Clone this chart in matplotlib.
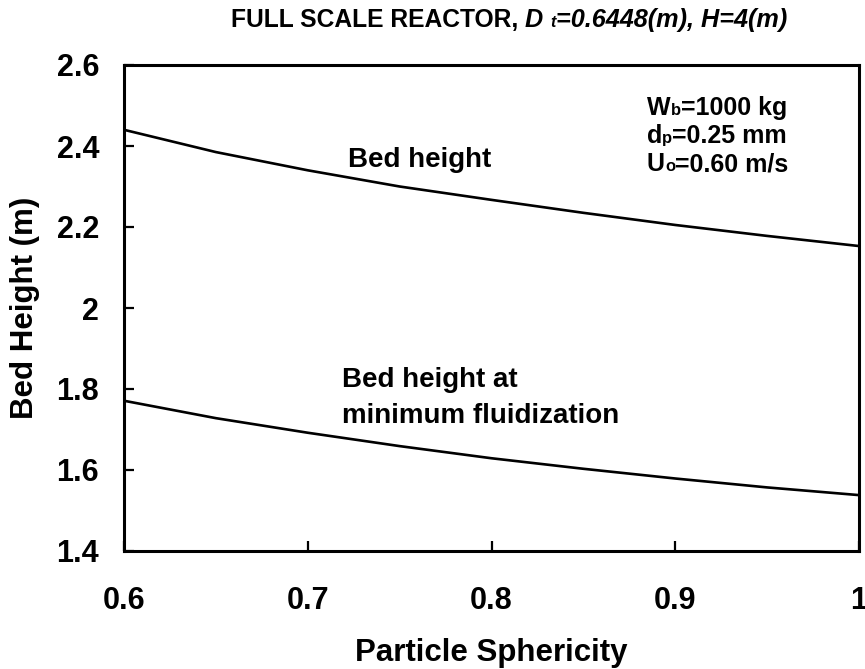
import numpy as np
import matplotlib
matplotlib.use("Agg")
import matplotlib.pyplot as plt

# fonts: bold Arial-like everywhere
plt.rcParams["font.family"] = ["Liberation Sans", "DejaVu Sans"]
plt.rcParams["font.weight"] = "bold"

# data
sphericity = [0.60, 0.65, 0.70, 0.75, 0.80, 0.85, 0.90, 0.95, 1.00]
bed_height = [2.440, 2.385, 2.340, 2.300, 2.267, 2.235, 2.205, 2.178, 2.153]
bed_height_mf = [1.771, 1.728, 1.692, 1.659, 1.629, 1.603, 1.579, 1.557, 1.538]

x_ticks = [0.6, 0.7, 0.8, 0.9, 1.0]
x_tick_labels = ["0.6", "0.7", "0.8", "0.9", "1"]
y_ticks = [1.4, 1.6, 1.8, 2.0, 2.2, 2.4, 2.6]
y_tick_labels = ["1.4", "1.6", "1.8", "2", "2.2", "2.4", "2.6"]

W, H = 865, 669
fig = plt.figure(figsize=(W / 100, H / 100), dpi=100)
ax = fig.add_axes([124 / W, 1 - 551 / H, (859 - 124) / W, (551 - 65) / H])
renderer = fig.canvas.get_renderer()


def text_runs(x_px, y_px, pieces):
    """draw text pieces one after another on a common baseline (pixel coords from top-left)"""
    x = x_px
    for txt, size, style in pieces:
        t = fig.text(x / W, 1 - y_px / H, txt, fontsize=size, fontstyle=style,
                     fontweight="bold", ha="left", va="baseline")
        x += t.get_window_extent(renderer).width


ax.plot(sphericity, bed_height, color="black", lw=1.9)
ax.plot(sphericity, bed_height_mf, color="black", lw=1.9)

ax.set_xlim(0.6, 1.0)
ax.set_ylim(1.4, 2.6)
ax.set_xticks(x_ticks)
ax.set_xticklabels(x_tick_labels)
ax.set_yticks(y_ticks)
ax.set_yticklabels(y_tick_labels)
ax.tick_params(direction="in", length=7, width=1.6, labelsize=22)
ax.tick_params(axis="y", pad=18)
ax.tick_params(axis="x", pad=25)
for s in ax.spines.values():
    s.set_linewidth(2.2)

ax.set_xlabel("Particle Sphericity", fontsize=22.5, fontweight="bold", labelpad=16)
ax.set_ylabel("Bed Height (m)", fontsize=22.5, fontweight="bold", labelpad=12)

# curve labels
text_runs(348, 167, [("Bed height", 20, "normal")])
text_runs(342, 387, [("Bed height at", 20, "normal")])
text_runs(342, 423, [("minimum fluidization", 20, "normal")])

# operating conditions
text_runs(647, 115, [("W", 18, "normal"), ("b", 12, "normal"), ("=1000 kg", 18, "normal")])
text_runs(647, 143, [("d", 18, "normal"), ("p", 12, "normal"), ("=0.25 mm", 18, "normal")])
text_runs(647, 171, [("U", 18, "normal"), ("o", 12, "normal"), ("=0.60 m/s", 18, "normal")])

# title
text_runs(231, 27, [("FULL SCALE REACTOR, ", 17.7, "normal"), ("D ", 18.2, "italic"),
                    ("t", 11.5, "italic"), ("=0.6448(m), H=4(m)", 18.2, "italic")])

fig.savefig("out.png", dpi=100)
